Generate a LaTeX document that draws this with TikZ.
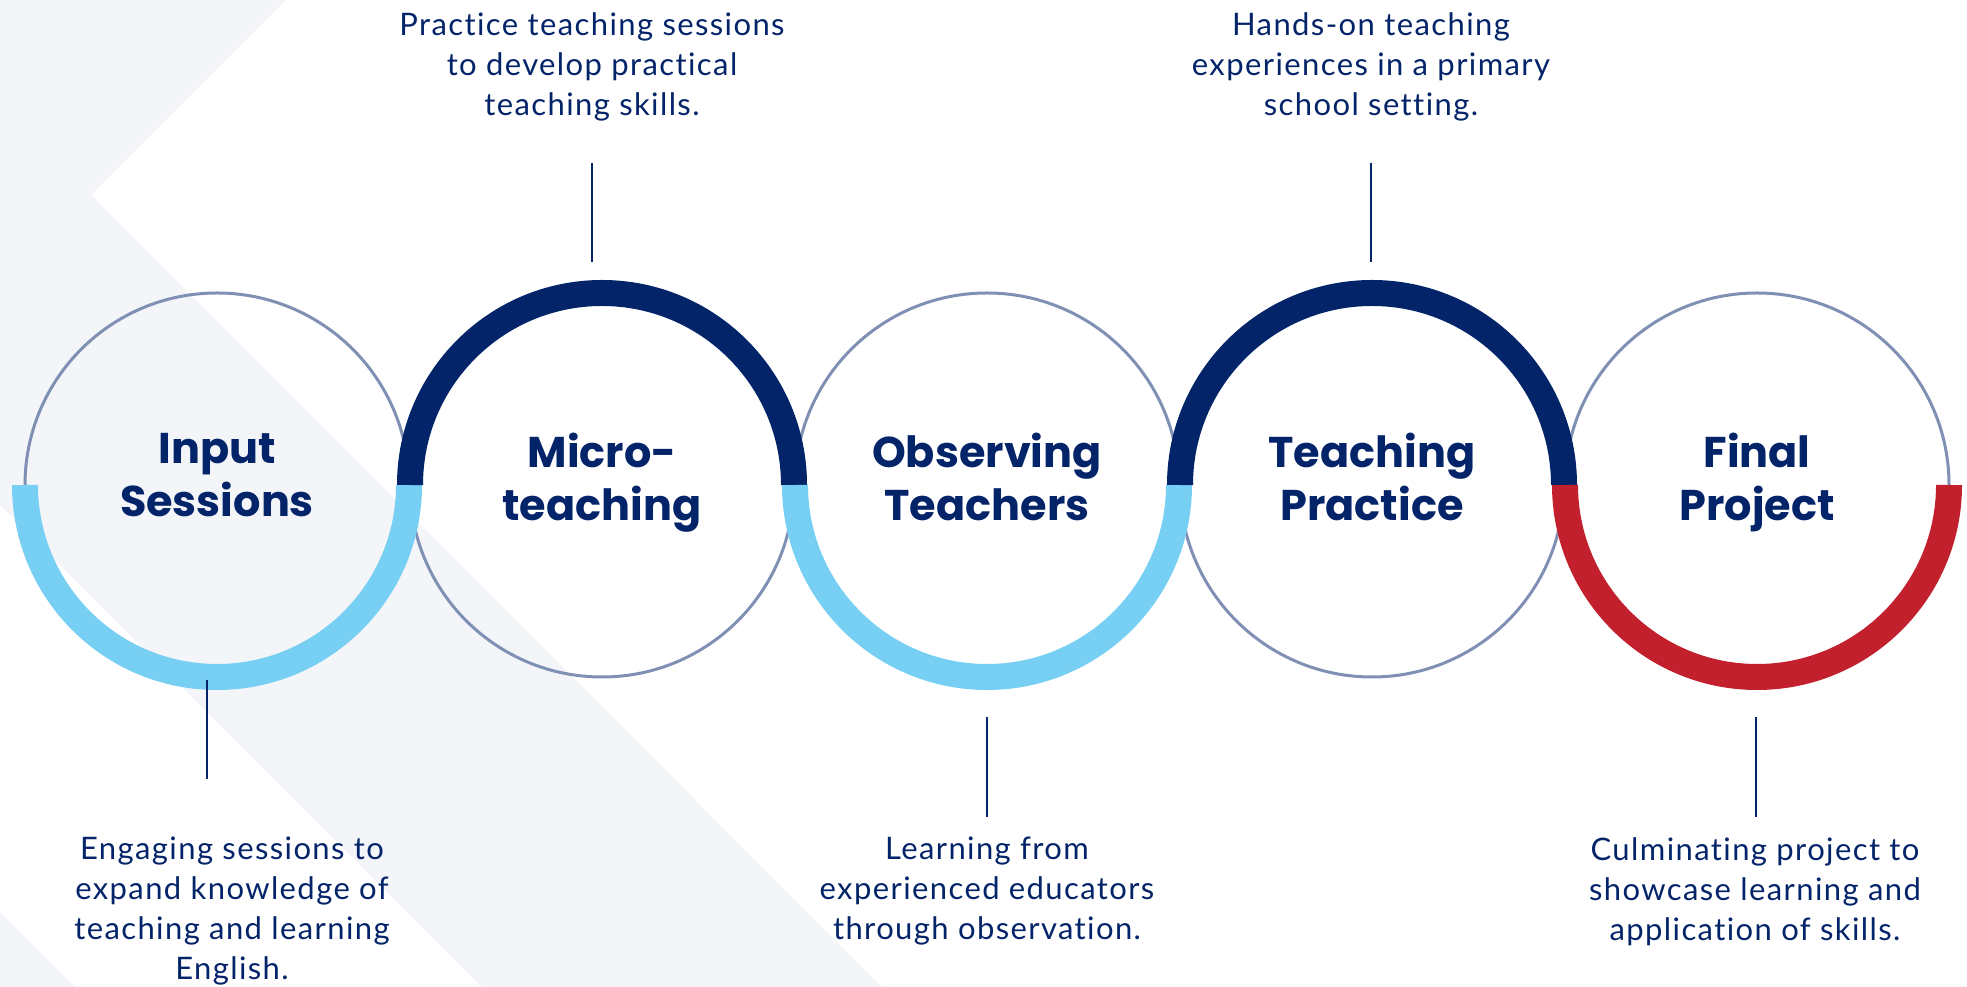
\documentclass[tikz,border=0pt]{standalone}
\usepackage{fontspec}
\setmainfont{Lato}
\newfontfamily\notefont{Lato}[LetterSpace=4.5, Ligatures=NoCommon]
\newfontfamily\headfont{Poppins}
\usepackage{tikz}
\usetikzlibrary{positioning}

\definecolor{navy}{HTML}{04246A}
\definecolor{skyblue}{HTML}{78CFF4}
\definecolor{brickred}{HTML}{C1202C}
\definecolor{ringgray}{HTML}{8090B4}
\definecolor{bggray}{HTML}{F4F5F9}

\begin{document}
\begin{tikzpicture}[
  x=1pt, y=1pt,
  node distance=1pt,
  stage/.style={
    circle, draw=ringgray, line width=3pt,
    minimum size=384pt, inner sep=0pt, outer sep=0pt
  },
  stagetitle/.style={
    anchor=north, align=center, inner sep=0pt, text=navy,
    font=\headfont\bfseries\fontsize{43}{53}\selectfont
  },
  note/.style={
    anchor=north, align=center, inner sep=0pt, text=navy,
    font=\notefont\fontsize{31}{40}\selectfont
  },
  leader/.style={draw=navy, line width=1.5pt},
  ringarc/.style={line width=26pt}
]

\useasboundingbox (0,0) rectangle (1967,987);

% =====================================================
% BACKGROUND
% =====================================================

\fill[bggray] (0,987) -- (286,987) -- (91,792) -- (882,0)
  -- (482,0) -- (0,482) -- cycle;
\fill[bggray] (0,75) -- (75,0) -- (0,0) -- cycle;

% =====================================================
% STAGES
% =====================================================

\node[stage] (c1) at (217,502) {};
\node[stage, right=of c1] (c2) {};
\node[stage, right=of c2] (c3) {};
\node[stage, right=of c3] (c4) {};
\node[stage, right=of c4] (c5) {};

\draw[ringarc, skyblue] (c1.west) arc[start angle=180, end angle=360, radius=192pt];
\draw[ringarc, navy] (c2.west) arc[start angle=180, end angle=0, radius=192pt];
\draw[ringarc, skyblue] (c3.west) arc[start angle=180, end angle=360, radius=192pt];
\draw[ringarc, navy] (c4.west) arc[start angle=180, end angle=0, radius=192pt];
\draw[ringarc, brickred] (c5.west) arc[start angle=180, end angle=360, radius=192pt];

\node[stagetitle] (t1) at ([yshift=52pt]c1.center) {Input\\Sessions};
\node[stagetitle] (t2) at ([yshift=52pt]c2.center) {Micro-\\teaching};
\node[stagetitle] (t3) at ([yshift=52pt]c3.center) {Observing\\Teachers};
\node[stagetitle] (t4) at ([yshift=52pt]c4.center) {Teaching\\Practice};
\node[stagetitle] (t5) at ([yshift=52pt]c5.center) {Final\\Project};

% =====================================================
% DESCRIPTIONS
% =====================================================

\node[note] (d1) at (232,150)
{Engaging sessions to\\expand knowledge of\\teaching and learning\\English.};
\node[note] (d2) at (592,975)
{Practice teaching sessions\\to develop practical\\teaching skills.};
\node[note] (d3) at (987,150)
{Learning from\\experienced educators\\through observation.};
\node[note] (d4) at (1371,975)
{Hands-on teaching\\experiences in a primary\\school setting.};
\node[note] (d5) at (1755,150)
{Culminating project to\\showcase learning and\\application of skills.};

% leader lines
\coordinate (l1a) at (207,307);  \coordinate (l1b) at (207,208);
\coordinate (l2a) at (592,824);  \coordinate (l2b) at (592,725);
\coordinate (l3a) at (987,270);  \coordinate (l3b) at (987,170);
\coordinate (l4a) at (1371,824); \coordinate (l4b) at (1371,725);
\coordinate (l5a) at (1756,270); \coordinate (l5b) at (1756,170);

\draw[leader] (l1a) -- (l1b);
\draw[leader] (l2a) -- (l2b);
\draw[leader] (l3a) -- (l3b);
\draw[leader] (l4a) -- (l4b);
\draw[leader] (l5a) -- (l5b);

\end{tikzpicture}
\end{document}
